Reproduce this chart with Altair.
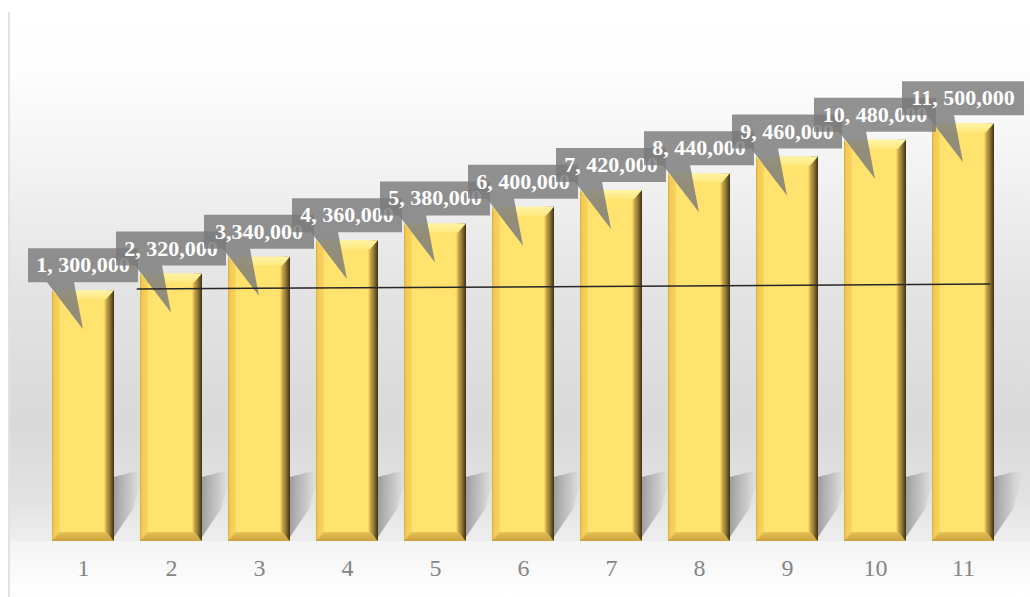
import altair as alt
import pandas as pd

# ---- data ----
categories = [1, 2, 3, 4, 5, 6, 7, 8, 9, 10, 11]
values = [300000, 320000, 340000, 360000, 380000, 400000,
          420000, 440000, 460000, 480000, 500000]
labels = ["1, 300,000", "2, 320,000", "3,340,000", "4, 360,000",
          "5, 380,000", "6, 400,000", "7, 420,000", "8, 440,000",
          "9, 460,000", "10, 480,000", "11, 500,000"]
trend_x = [1.61, 11.31]
trend_y = [301500, 307400]

W, H = 968, 529
df = pd.DataFrame({"cat": categories, "value": values, "label": labels})
trend = pd.DataFrame({"x": trend_x, "y": trend_y})
one = pd.DataFrame({"a": [0]})

xscale = alt.Scale(domain=[0.5, 11.5], nice=False, zero=False, padding=0)
yscale = alt.Scale(domain=[0, 633000], nice=False, padding=0)
AX = alt.Axis(values=categories, format="d", title=None,
              grid=False, ticks=False, domain=False,
              labelFont="Liberation Serif", labelFontSize=24,
              labelColor="#858585", labelPadding=27,
              labelBaseline="middle", labelOverlap=False,
              labelFlush=False, zindex=1)
Xn = alt.X("cat:Q", scale=xscale, axis=AX)
Yv = alt.Y("value:Q", scale=yscale, axis=None)
Y0 = alt.Y(datum=0, scale=yscale, axis=None)


def lin(stops, vertical=False):
    return alt.Gradient(
        gradient="linear",
        stops=[alt.GradientStop(offset=o, color=c) for o, c in stops],
        x1=0, y1=0, x2=0 if vertical else 1, y2=1 if vertical else 0,
    )


bg_grad = lin([(0, "#ffffff"), (0.12, "#fdfdfd"), (0.3, "#f2f2f2"),
               (0.55, "#e2e2e2"), (0.78, "#d9d9d9"), (0.92, "#e2e2e2"),
               (1, "#eeeeee")], vertical=True)
below_grad = lin([(0, "#f4f4f4"), (1, "#ffffff")], vertical=True)
bar_grad = lin([(0, "#d9ad3c"), (0.03, "#f2c852"), (0.12, "#f8d460"),
                (0.14, "#ffe36e"), (0.84, "#ffe36e"), (0.87, "#d2b04e"),
                (0.94, "#8a7232"), (1, "#3a3016")])
top_grad = lin([(0, "#fff4a8"), (1, "#ffe87c")], vertical=True)
bot_grad = lin([(0, "#e7c157"), (1, "#c9a13c")], vertical=True)
shadow_grad = lin([(0, "rgba(140,140,140,0.8)"), (0.5, "rgba(170,170,170,0.5)"),
                   (1, "rgba(220,220,220,0)")])

background = alt.Chart(one).mark_rect(fill=bg_grad).encode(
    x=alt.value(-29), x2=alt.value(W + 23), y=alt.value(0), y2=alt.value(H))
below = alt.Chart(one).mark_rect(fill=below_grad).encode(
    x=alt.value(-29), x2=alt.value(W + 23), y=alt.value(H), y2=alt.value(H + 56))
left_line = alt.Chart(one).mark_rule(color="#d9d9d9", strokeWidth=1.5).encode(
    x=alt.value(-30), y=alt.value(0), y2=alt.value(H + 56))

bars = alt.Chart(df).mark_bar(width=62, fill=bar_grad, strokeWidth=0).encode(
    x=Xn, y=Yv)

shadow_path = "M31,-64 L62,-72 L50,-32 L31,-4 Z"
shadows = alt.Chart(df).mark_point(
    shape=shadow_path, size=4, filled=True, fill=shadow_grad,
    strokeWidth=0, opacity=1).encode(x=Xn, y=Y0)

top_bevel = alt.Chart(df).mark_point(
    shape="M-31,0 L31,0 L23,9 L-23,9 Z", size=4, filled=True,
    fill=top_grad, strokeWidth=0, opacity=1).encode(x=Xn, y=Yv)
bot_bevel = alt.Chart(df).mark_point(
    shape="M-31,0 L31,0 L23,-9 L-23,-9 Z", size=4, filled=True,
    fill=bot_grad, strokeWidth=0, opacity=1).encode(x=Xn, y=Y0)

layers = [background, below, left_line, shadows, bars, top_bevel, bot_bevel]

for i in range(len(categories)):
    hw = 61 if len(labels[i]) > 10 else 55
    path = (f"M{-hw},-42 L{hw},-42 L{hw},-8 L-9,-8 L0,39 L-36,-8 "
            f"L{-hw},-8 Z")
    sub = df.iloc[[i]]
    box = alt.Chart(sub).mark_point(
        shape=path, size=4, filled=True, fill="#7a7a7a", fillOpacity=0.82,
        strokeWidth=0, opacity=1).encode(x=Xn, y=Yv)
    txt = alt.Chart(sub).mark_text(
        font="Liberation Serif", fontWeight="bold", fontSize=22,
        color="white", dy=-25, baseline="middle", align="center").encode(
        x=Xn, y=Yv, text="label:N")
    layers += [box, txt]

trend_line = alt.Chart(trend).mark_line(color="#262626", strokeWidth=1.5).encode(
    x=alt.X("x:Q", scale=xscale, axis=AX),
    y=alt.Y("y:Q", scale=yscale, axis=None))
layers.append(trend_line)

chart = alt.layer(*layers).properties(
    width=W, height=H,
    padding={"left": 39, "top": 12, "right": 23, "bottom": 56},
    autosize=alt.AutoSizeParams(type="none"),
    background="#ffffff",
).configure_view(stroke=None)

chart.save("out.html", embed_options={"renderer": "svg", "actions": False})
